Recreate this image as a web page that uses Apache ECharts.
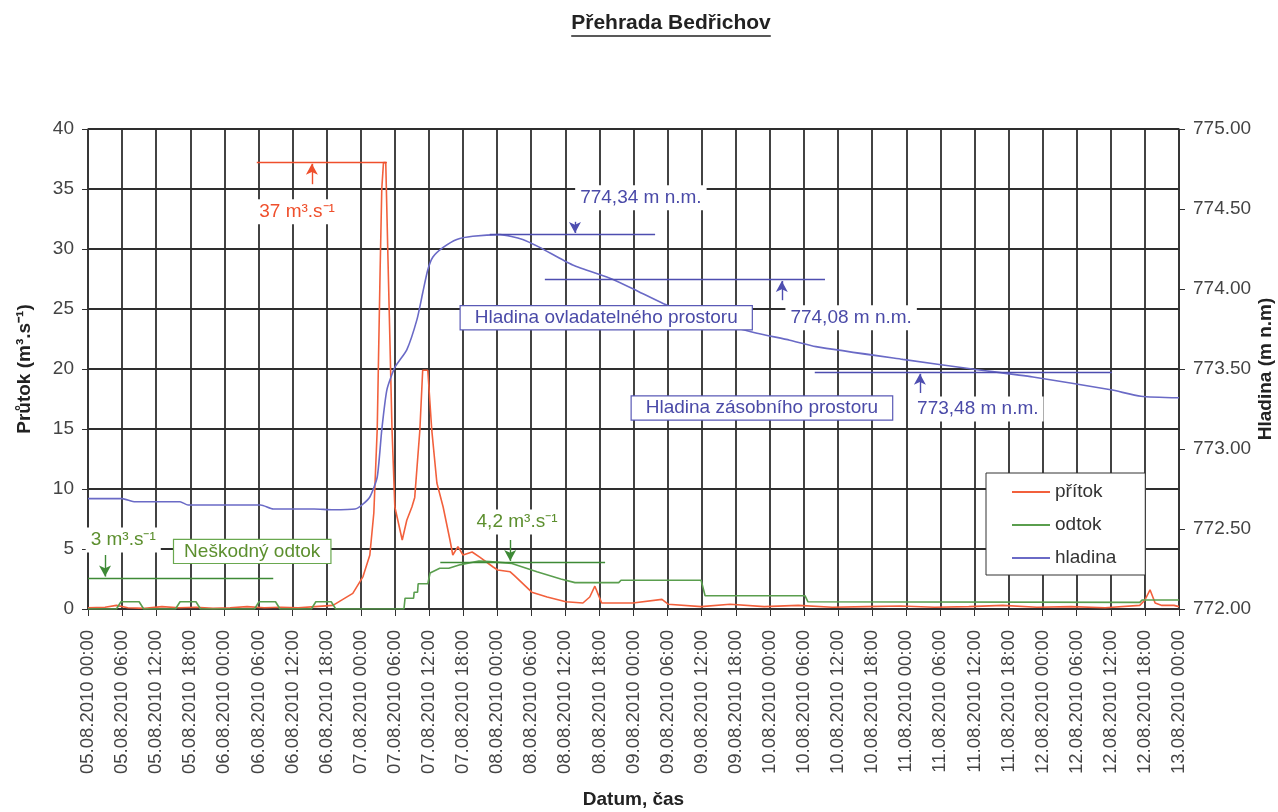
<!DOCTYPE html>
<html>
<head>
<meta charset="utf-8">
<script src="https://cdn.jsdelivr.net/npm/echarts@6/dist/echarts.min.js"></script>
<style>
html, body { margin: 0; padding: 0; background: #fff; }
#chart { width: 1278px; height: 812px; }
</style>
</head>
<body>
<div id="chart"></div>
<script>
// hours since 05.08.2010 00:00
var pritok_t = [0, 3, 5, 7, 10, 13, 16, 19, 22, 25, 28, 31, 34, 37, 40, 43.1, 46.6, 48.4, 49.6, 50.3, 50.9, 51.4, 51.7, 52.0, 52.4, 52.8, 53.5, 54.0, 55.3, 56.1, 57.0, 57.5, 58.4, 58.9, 59.8, 60.5, 61.4, 62.5, 63.7, 64.2, 65.1, 66.0, 67.6, 69.0, 71.3, 72.1, 74.3, 75.0, 78.1, 80.8, 84.1, 87.1, 88.3, 89.2, 90.4, 95.9, 101.0, 102.1, 107.9, 113.0, 119, 125, 131, 137, 143, 149, 155, 161, 167, 173, 179, 185.1, 186.0, 186.9, 187.8, 189, 191.1, 192];
var pritok = [0.1, 0.15, 0.3, 0.1, 0.05, 0.2, 0.1, 0.15, 0.05, 0.1, 0.2, 0.1, 0.15, 0.1, 0.2, 0.3, 1.3, 2.7, 4.5, 8, 15, 28, 35, 37.2, 37.2, 29, 15, 8.5, 5.75, 7.4, 8.5, 9.3, 14.9, 19.9, 19.9, 14.9, 10.5, 8.5, 5.75, 4.5, 5.2, 4.5, 4.75, 4.3, 3.5, 3.25, 3.1, 2.8, 1.4, 1.0, 0.6, 0.5, 1.0, 1.9, 0.5, 0.5, 0.8, 0.4, 0.2, 0.4, 0.2, 0.3, 0.15, 0.2, 0.25, 0.15, 0.2, 0.3, 0.15, 0.2, 0.1, 0.3, 0.75, 1.6, 0.5, 0.3, 0.3, 0.2];

var odtok_t = [0, 5.0, 5.8, 9.0, 9.8, 15.4, 16.2, 19.0, 19.8, 29.3, 30.1, 33.0, 33.8, 39.3, 40.1, 42.8, 43.6, 55.6, 55.8, 57.3, 57.4, 58.0, 58.1, 59.8, 60.2, 61.9, 63.5, 65.6, 68.8, 70.7, 74.6, 79.0, 83.2, 85.7, 93.4, 93.8, 107.9, 108.6, 126.2, 126.7, 185.1, 185.5, 192];
var odtok = [0, 0, 0.6, 0.6, 0, 0, 0.6, 0.6, 0, 0, 0.6, 0.6, 0, 0, 0.6, 0.6, 0, 0, 0.9, 0.9, 1.4, 1.4, 2.1, 2.1, 3.0, 3.4, 3.4, 3.7, 4.0, 3.95, 3.8, 3.1, 2.5, 2.2, 2.2, 2.4, 2.4, 1.1, 1.1, 0.6, 0.55, 0.75, 0.75];

var hladina_t = [0, 6, 8.3, 16.2, 17.6, 30.4, 32.6, 39.8, 43.1, 47.0, 48.2, 49.6, 50.9, 51.7, 52.6, 54.0, 56.1, 57.9, 58.9, 59.8, 60.7, 62.5, 64.9, 67.7, 72.5, 76.5, 79.5, 85.3, 92.4, 97.1, 101.2, 107.7, 117.0, 123.5, 128.1, 143.4, 155.6, 166.3, 180.0, 185.3, 192];
var hladina = [772.69, 772.69, 772.67, 772.67, 772.65, 772.65, 772.625, 772.625, 772.62, 772.625, 772.65, 772.70, 772.825, 773.12, 773.37, 773.51, 773.62, 773.81, 773.975, 774.12, 774.2, 774.26, 774.31, 774.33, 774.34, 774.31, 774.26, 774.15, 774.06, 773.98, 773.91, 773.82, 773.73, 773.68, 773.64, 773.56, 773.5, 773.45, 773.37, 773.33, 773.32];

// annotation lines [t1, t2, level] and arrows [t, from, to]
var pritok_levels = [[29.7, 52.6, 37.2]];
var pritok_arrows = [[39.4, 35.4, 37.1]];
var odtok_levels = [[0, 32.6, 2.6], [62, 91, 3.9]];
var odtok_arrows = [[3.0, 4.5, 2.7], [74.3, 5.75, 4.0]];
var hladina_levels = [[70.7, 99.8, 774.34], [80.4, 129.7, 774.06], [127.9, 180.2, 773.48]];
var hladina_arrows = [[85.7, 774.42, 774.35], [122.1, 773.93, 774.05], [146.4, 773.35, 773.47]];

// annotation texts [text, t, value, axis, kind]
var notes = [
    ['37 m\u00B3.s\u207B\u00B9', 36.8, 33.1, 0, 'red'],
    ['3 m\u00B3.s\u207B\u00B9', 6.2, 5.75, 0, 'green'],
    ['4,2 m\u00B3.s\u207B\u00B9', 75.5, 7.25, 0, 'green'],
    ['Neškodný odtok', 28.9, 4.8, 0, 'greenbox'],
    ['774,34 m n.m.', 97.3, 774.57, 1, 'blue'],
    ['774,08 m n.m.', 134.3, 773.82, 1, 'blue'],
    ['773,48 m n.m.', 156.6, 773.25, 1, 'blue'],
    ['Hladina ovladatelného prostoru', 91.2, 773.82, 1, 'bluebox'],
    ['Hladina zásobního prostoru', 118.6, 773.256, 1, 'bluebox']
];

var font = 'Liberation Sans, Arial, sans-serif';

function pairs(t, v) {
    var out = [];
    for (var i = 0; i < t.length; i++)
        out.push([t[i], v[i]]);
    return out;
}

function mark_lines(levels, arrows) {
    var data = [];
    for (var i = 0; i < levels.length; i++) {
        data.push([{ coord: [levels[i][0], levels[i][2]] }, { coord: [levels[i][1], levels[i][2]] }]);
    }
    for (var j = 0; j < arrows.length; j++) {
        data.push([
            { coord: [arrows[j][0], arrows[j][1]], symbol: 'none' },
            { coord: [arrows[j][0], arrows[j][2]], symbol: 'arrow', symbolSize: [9, 11] }
        ]);
    }
    return data;
}

function date_label(h) {
    var day = 5 + Math.floor(h / 24);
    var hh = h % 24;
    return (day < 10 ? '0' : '') + day + '.08.2010 ' + (hh < 10 ? '0' : '') + hh + ':00';
}

var chart = echarts.init(document.getElementById('chart'));

var option = {
    animation: false,
    textStyle: { fontFamily: font },
    grid: { left: 88, right: 99, top: 129, bottom: 203, outerBoundsMode: 'none' },
    legend: {
        data: ['přítok', 'odtok', 'hladina'],
        orient: 'vertical',
        left: 986,
        top: 473,
        padding: [9, 29, 7, 26],
        itemGap: 13,
        itemWidth: 38,
        itemHeight: 2,
        icon: 'rect',
        backgroundColor: '#fff',
        borderColor: '#333',
        borderWidth: 1,
        textStyle: { fontSize: 19, color: '#333', lineHeight: 20, fontFamily: font }
    },
    xAxis: {
        type: 'value',
        min: 0,
        max: 192,
        interval: 6,
        name: 'Datum, čas',
        nameLocation: 'middle',
        nameGap: 181,
        nameTextStyle: { fontSize: 19, fontWeight: 'bold', color: '#222', fontFamily: font },
        axisLine: { show: true, lineStyle: { color: '#333', width: 1.5 } },
        axisTick: { show: true, length: 7, lineStyle: { color: '#333' } },
        axisLabel: {
            rotate: 90,
            margin: 21,
            fontSize: 18.5,
            color: '#444',
            showMinLabel: true,
            showMaxLabel: true,
            formatter: date_label
        },
        splitLine: { show: true, lineStyle: { color: '#2e2e2e', width: 1.8 } }
    },
    yAxis: [{
        type: 'value',
        min: 0,
        max: 40,
        interval: 5,
        name: 'Průtok (m\u00B3.s\u207B\u00B9)',
        nameLocation: 'middle',
        nameRotate: 90,
        nameGap: 54,
        nameTextStyle: { fontSize: 19, fontWeight: 'bold', color: '#222', fontFamily: font },
        axisLine: { show: true, lineStyle: { color: '#333', width: 1.5 } },
        axisTick: { show: true, length: 6, lineStyle: { color: '#333' } },
        axisLabel: { margin: 14, fontSize: 19, color: '#444' },
        splitLine: { show: true, lineStyle: { color: '#2e2e2e', width: 1.8 } }
    }, {
        type: 'value',
        min: 772,
        max: 775,
        interval: 0.5,
        name: 'Hladina (m n.m)',
        nameLocation: 'middle',
        nameRotate: 90,
        nameGap: 77,
        nameMoveOverlap: false,
        nameTextStyle: { fontSize: 19, fontWeight: 'bold', color: '#222', fontFamily: font },
        axisLine: { show: true, lineStyle: { color: '#333', width: 1.5 } },
        axisTick: { show: true, length: 6, lineStyle: { color: '#333' } },
        axisLabel: {
            margin: 14,
            fontSize: 19,
            color: '#444',
            formatter: function (v) { return v.toFixed(2); }
        },
        splitLine: { show: false }
    }],
    series: [{
        name: 'přítok',
        type: 'line',
        yAxisIndex: 0,
        symbol: 'none',
        itemStyle: { color: '#f2603c' },
        lineStyle: { color: '#f2603c', width: 1.6 },
        data: pairs(pritok_t, pritok),
        markLine: {
            silent: true,
            symbol: ['none', 'none'],
            label: { show: false },
            lineStyle: { color: '#ef4f2c', type: 'solid', width: 1.4 },
            data: mark_lines(pritok_levels, pritok_arrows)
        }
    }, {
        name: 'odtok',
        type: 'line',
        yAxisIndex: 0,
        symbol: 'none',
        itemStyle: { color: '#5a9e4e' },
        lineStyle: { color: '#5a9e4e', width: 1.6 },
        data: pairs(odtok_t, odtok),
        markLine: {
            silent: true,
            symbol: ['none', 'none'],
            label: { show: false },
            lineStyle: { color: '#3e8a36', type: 'solid', width: 1.4 },
            data: mark_lines(odtok_levels, odtok_arrows)
        }
    }, {
        name: 'hladina',
        type: 'line',
        yAxisIndex: 1,
        symbol: 'none',
        smooth: 0.2,
        itemStyle: { color: '#6a6ac6' },
        lineStyle: { color: '#6a6ac6', width: 1.6 },
        data: pairs(hladina_t, hladina),
        markLine: {
            silent: true,
            symbol: ['none', 'none'],
            label: { show: false },
            lineStyle: { color: '#4e4eb0', type: 'solid', width: 1.4 },
            data: mark_lines(hladina_levels, hladina_arrows)
        }
    }]
};

chart.setOption(option);

// texts placed from data coordinates
var styles = {
    red: { fill: '#ef4f2c', bg: '#fff', border: null, pad: [3, 5] },
    green: { fill: '#5c8f2e', bg: '#fff', border: null, pad: [3, 5] },
    blue: { fill: '#4a4aa8', bg: '#fff', border: null, pad: [3, 5] },
    greenbox: { fill: '#5c8f2e', bg: '#fff', border: '#6aa84f', pad: [2, 10] },
    bluebox: { fill: '#4a4aa8', bg: '#fff', border: '#5a5ab6', pad: [2, 14] }
};

var graphics = [];
for (var i = 0; i < notes.length; i++) {
    var n = notes[i];
    var p = chart.convertToPixel({ xAxisIndex: 0, yAxisIndex: n[3] }, [n[1], n[2]]);
    var s = styles[n[4]];
    graphics.push({
        type: 'text',
        x: p[0],
        y: p[1],
        z: 100,
        style: {
            text: n[0],
            fill: s.fill,
            font: '19px ' + font,
            align: 'center',
            verticalAlign: 'middle',
            backgroundColor: s.bg,
            borderColor: s.border || 'transparent',
            borderWidth: s.border ? 1.2 : 0,
            padding: s.pad
        }
    });
}

// underlined title
var title_text = 'Přehrada Bedřichov';
var ctx = document.createElement('canvas').getContext('2d');
ctx.font = 'bold 21px ' + font;
var tw = ctx.measureText(title_text).width;
graphics.push({
    type: 'text',
    x: 671,
    y: 23,
    style: { text: title_text, font: 'bold 21px ' + font, fill: '#222', align: 'center', verticalAlign: 'middle' }
});
graphics.push({
    type: 'line',
    shape: { x1: 671 - tw / 2, y1: 36, x2: 671 + tw / 2, y2: 36 },
    style: { stroke: '#222', lineWidth: 1.5 }
});

chart.setOption({ graphic: graphics });
</script>
</body>
</html>
